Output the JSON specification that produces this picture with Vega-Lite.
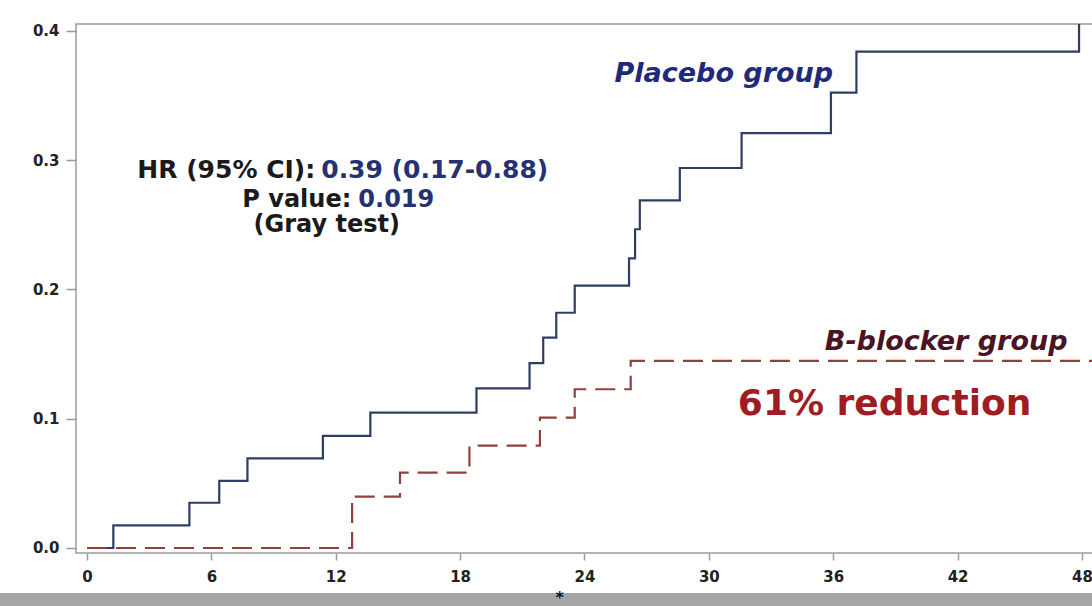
{
  "$schema": "https://vega.github.io/schema/vega-lite/v6.json",
  "autosize": {"type": "none"},
  "padding": {"left": 76, "top": 24, "right": 0, "bottom": 53},
  "width": 1019,
  "height": 529,
  "background": "white",
  "config": {
    "view": {"stroke": "#9a9a9a", "strokeWidth": 1.5},
    "axis": {
      "grid": false,
      "domain": false,
      "tickColor": "#9a9a9a",
      "tickWidth": 1.5,
      "labelFont": "DejaVu Sans",
      "labelFontWeight": "bold",
      "labelFontSize": 15,
      "labelColor": "#222222",
      "title": null
    },
    "text": {"font": "DejaVu Sans", "fontWeight": "bold"}
  },
  "datasets": {
    "curves": [
      {"group": "Placebo", "month": 0, "incidence": 0},
      {"group": "Placebo", "month": 1.27, "incidence": 0.0175},
      {"group": "Placebo", "month": 4.94, "incidence": 0.035},
      {"group": "Placebo", "month": 6.38, "incidence": 0.052},
      {"group": "Placebo", "month": 7.74, "incidence": 0.0694},
      {"group": "Placebo", "month": 11.38, "incidence": 0.0867},
      {"group": "Placebo", "month": 13.67, "incidence": 0.1047},
      {"group": "Placebo", "month": 18.79, "incidence": 0.1235},
      {"group": "Placebo", "month": 21.35, "incidence": 0.143},
      {"group": "Placebo", "month": 22.01, "incidence": 0.1627},
      {"group": "Placebo", "month": 22.64, "incidence": 0.182},
      {"group": "Placebo", "month": 23.53, "incidence": 0.203},
      {"group": "Placebo", "month": 26.15, "incidence": 0.224},
      {"group": "Placebo", "month": 26.44, "incidence": 0.2466},
      {"group": "Placebo", "month": 26.67, "incidence": 0.269},
      {"group": "Placebo", "month": 28.6, "incidence": 0.294},
      {"group": "Placebo", "month": 31.58, "incidence": 0.321},
      {"group": "Placebo", "month": 35.89, "incidence": 0.3523},
      {"group": "Placebo", "month": 37.12, "incidence": 0.384},
      {"group": "Placebo", "month": 47.86, "incidence": 0.42},
      {"group": "B-blocker", "month": 0, "incidence": 0},
      {"group": "B-blocker", "month": 12.79, "incidence": 0.0397},
      {"group": "B-blocker", "month": 15.1, "incidence": 0.0583},
      {"group": "B-blocker", "month": 18.45, "incidence": 0.0792},
      {"group": "B-blocker", "month": 21.85, "incidence": 0.1008},
      {"group": "B-blocker", "month": 23.53, "incidence": 0.1228},
      {"group": "B-blocker", "month": 26.23, "incidence": 0.1447},
      {"group": "B-blocker", "month": 48.7, "incidence": 0.1447}
    ],
    "one": [{}]
  },
  "layer": [
    {
      "data": {"name": "one"},
      "mark": {"type": "rect", "color": "#a6a6a6", "clip": false},
      "encoding": {
        "x": {"datum": -6},
        "x2": {"datum": 50},
        "y": {"datum": -0.0348},
        "y2": {"datum": -0.06}
      }
    },
    {
      "data": {"name": "one"},
      "mark": {"type": "text", "text": "*", "fontSize": 16, "color": "#111111", "baseline": "middle", "fontWeight": "bold"},
      "encoding": {"x": {"datum": 22.8}, "y": {"datum": -0.0383}}
    },
    {
      "data": {"name": "curves"},
      "mark": {"type": "line", "interpolate": "step-after", "clip": true, "strokeWidth": 2.2},
      "encoding": {
        "x": {
          "field": "month",
          "type": "quantitative",
          "scale": {"domain": [-0.531, 48.63], "nice": false, "zero": false},
          "axis": {"values": [0, 6, 12, 18, 24, 30, 36, 42, 48], "tickSize": 7, "labelPadding": 9}
        },
        "y": {
          "field": "incidence",
          "type": "quantitative",
          "scale": {"domain": [-0.00387, 0.4054], "nice": false, "zero": false},
          "axis": {"values": [0, 0.1, 0.2, 0.3, 0.4], "format": ".1f", "tickSize": 10, "labelPadding": 7}
        },
        "color": {
          "field": "group",
          "type": "nominal",
          "scale": {"domain": ["Placebo", "B-blocker"], "range": ["#2f3c64", "#93403b"]},
          "legend": null
        },
        "strokeDash": {
          "field": "group",
          "type": "nominal",
          "scale": {"domain": ["Placebo", "B-blocker"], "range": [[1, 0], [20, 9]]},
          "legend": null
        }
      }
    },
    {
      "data": {"name": "one"},
      "mark": {"type": "text", "text": "HR (95% CI):", "fontSize": 25, "align": "right", "baseline": "alphabetic", "color": "#1a1a1a"},
      "encoding": {"x": {"datum": 11.01}, "y": {"datum": 0.2863}}
    },
    {
      "data": {"name": "one"},
      "mark": {"type": "text", "text": "0.39 (0.17-0.88)", "fontSize": 25, "align": "left", "baseline": "alphabetic", "color": "#243172"},
      "encoding": {"x": {"datum": 11.3}, "y": {"datum": 0.2863}}
    },
    {
      "data": {"name": "one"},
      "mark": {"type": "text", "text": "P value:", "fontSize": 24, "align": "right", "baseline": "alphabetic", "color": "#1a1a1a"},
      "encoding": {"x": {"datum": 12.75}, "y": {"datum": 0.2638}}
    },
    {
      "data": {"name": "one"},
      "mark": {"type": "text", "text": "0.019", "fontSize": 24, "align": "left", "baseline": "alphabetic", "color": "#243172"},
      "encoding": {"x": {"datum": 13.09}, "y": {"datum": 0.2638}}
    },
    {
      "data": {"name": "one"},
      "mark": {"type": "text", "text": "(Gray test)", "fontSize": 24, "align": "center", "baseline": "alphabetic", "color": "#1a1a1a"},
      "encoding": {"x": {"datum": 11.57}, "y": {"datum": 0.2445}}
    },
    {
      "data": {"name": "one"},
      "mark": {"type": "text", "text": "Placebo group", "fontSize": 27, "fontStyle": "italic", "align": "center", "baseline": "alphabetic", "color": "#1f2a7c"},
      "encoding": {"x": {"datum": 30.72}, "y": {"datum": 0.3605}}
    },
    {
      "data": {"name": "one"},
      "mark": {"type": "text", "text": "B-blocker group", "fontSize": 27, "fontStyle": "italic", "align": "center", "baseline": "alphabetic", "color": "#4a1422"},
      "encoding": {"x": {"datum": 41.45}, "y": {"datum": 0.1532}}
    },
    {
      "data": {"name": "one"},
      "mark": {"type": "text", "text": "61% reduction", "fontSize": 36, "align": "center", "baseline": "alphabetic", "color": "#a01b22"},
      "encoding": {"x": {"datum": 38.48}, "y": {"datum": 0.1029}}
    }
  ]
}
